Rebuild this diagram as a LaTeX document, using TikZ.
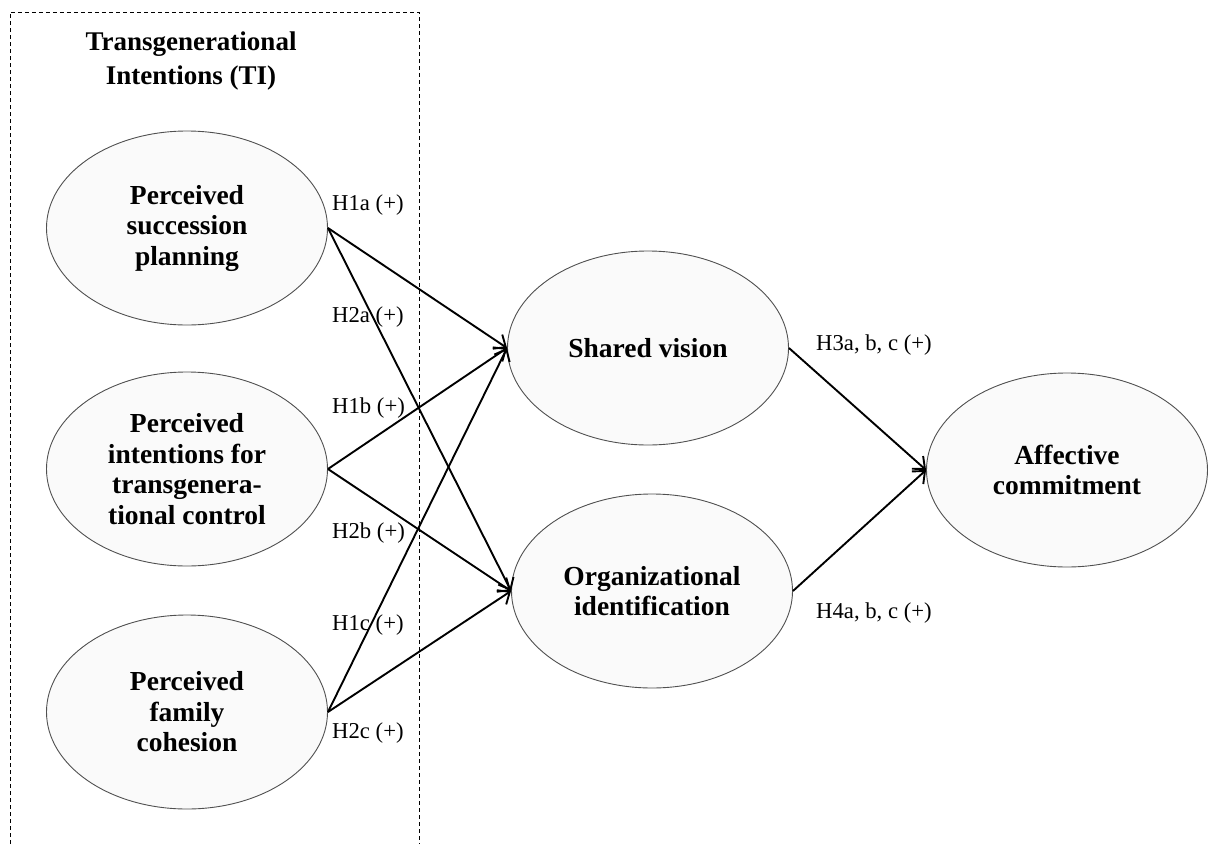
\documentclass[tikz,border=0pt]{standalone}
\usepackage{fontspec}
\setmainfont{Liberation Serif}
\usetikzlibrary{shapes.geometric,arrows.meta}
\definecolor{ellfill}{HTML}{FAFAFA}
\definecolor{ellline}{HTML}{505050}
\tikzset{
  construct/.style={ellipse, draw=ellline, line width=0.9pt, fill=ellfill,
    minimum width=281pt, minimum height=194pt, inner sep=0pt, align=center,
    font=\fontsize{27.5pt}{30.5pt}\selectfont\bfseries},
  hyp/.style={anchor=base west, inner sep=0pt, font=\fontsize{22.7pt}{26pt}\selectfont},
  path/.style={line width=1.9pt, -{Straight Barb[length=10pt,width=17pt,line width=1.9pt]}},
  tibox/.style={dash pattern=on 4pt off 3pt, line width=1pt, draw=black}
}
\begin{document}
\begin{tikzpicture}[x=1pt,y=-1pt]
\useasboundingbox (0,0) rectangle (1208,844);
% dashed TI frame
\coordinate (fbl) at (10,844);
\coordinate (ftl) at (10,12);
\coordinate (ftr) at (419,12);
\coordinate (fbr) at (419,844);
\draw[tibox] (fbl) -- (ftl) -- (ftr) -- (fbr);
\node[align=center, inner sep=0pt, font=\fontsize{27pt}{33.5pt}\selectfont\bfseries] (title) at (191,61) {Transgenerational\\Intentions (TI)};
% constructs
\node[construct] (psp) at (187,228) {Perceived\\succession\\planning};
\node[construct] (pit) at (187,469) {Perceived\\intentions for\\transgenera-\\tional control};
\node[construct] (pfc) at (187,712) {Perceived\\family\\cohesion};
\node[construct] (sv) at (648,348) {Shared vision};
\node[construct] (oi) at (652,591) {Organizational\\identification};
\node[construct] (ac) at (1067,470) {Affective\\commitment};
% paths
\draw[path] (psp.east) -- (sv.west);
\draw[path] (psp.east) -- (oi.west);
\draw[path] (pit.east) -- (sv.west);
\draw[path] (pit.east) -- (oi.west);
\draw[path] (pfc.east) -- (sv.west);
\draw[path] (pfc.east) -- (oi.west);
\draw[path] (sv.east) -- (ac.west);
\draw[path] (oi.east) -- (ac.west);
% labels
\node[hyp] (h1a) at (332,210) {H1a (+)};
\node[hyp] (h2a) at (332,322) {H2a (+)};
\node[hyp] (h1b) at (332,413) {H1b (+)};
\node[hyp] (h2b) at (332,538) {H2b (+)};
\node[hyp] (h1c) at (332,630) {H1c (+)};
\node[hyp] (h2c) at (332,738) {H2c (+)};
\node[hyp] (h3) at (816,350) {H3a, b, c (+)};
\node[hyp] (h4) at (816,618) {H4a, b, c (+)};
\end{tikzpicture}
\end{document}
